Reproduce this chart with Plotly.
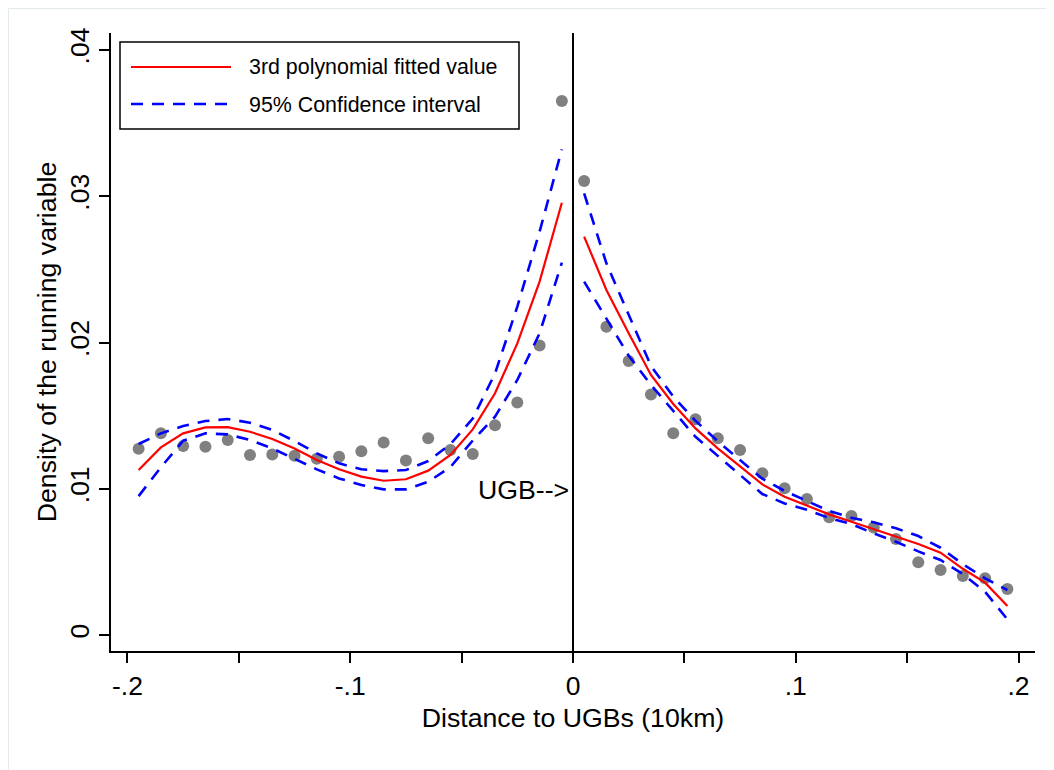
import plotly.graph_objects as go

# ---------------- data ----------------
x_left = [-0.195, -0.185, -0.175, -0.165, -0.155, -0.145, -0.135, -0.125, -0.115, -0.105,
          -0.095, -0.085, -0.075, -0.065, -0.055, -0.045, -0.035, -0.025, -0.015, -0.005]
x_right = [0.005, 0.015, 0.025, 0.035, 0.045, 0.055, 0.065, 0.075, 0.085, 0.095,
           0.105, 0.115, 0.125, 0.135, 0.145, 0.155, 0.165, 0.175, 0.185, 0.195]

density_left = [0.01274, 0.01379, 0.01292, 0.01288, 0.01333, 0.01231, 0.01235, 0.01226, 0.01206, 0.01219,
                0.01256, 0.01317, 0.01194, 0.01345, 0.01265, 0.01238, 0.01434, 0.01590, 0.01980, 0.03651]
density_right = [0.03104, 0.02108, 0.01874, 0.01645, 0.01379, 0.01475, 0.01345, 0.01265, 0.01106, 0.01003,
                 0.00930, 0.00805, 0.00814, 0.00736, 0.00656, 0.00497, 0.00444, 0.00403, 0.00388, 0.00315]

fit_left = [0.01128, 0.01283, 0.01379, 0.01420, 0.01422, 0.01390, 0.01340, 0.01276, 0.01197, 0.01133,
            0.01083, 0.01055, 0.01065, 0.01124, 0.01231, 0.01406, 0.01653, 0.01994, 0.02416, 0.02956]
upper_left = [0.01306, 0.01379, 0.01429, 0.01463, 0.01477, 0.01452, 0.01402, 0.01326, 0.01242, 0.01174,
              0.01133, 0.01121, 0.01128, 0.01190, 0.01305, 0.01480, 0.01789, 0.02245, 0.02758, 0.03321]
lower_left = [0.00950, 0.01147, 0.01329, 0.01379, 0.01372, 0.01333, 0.01276, 0.01203, 0.01133, 0.01071,
              0.01026, 0.00996, 0.00996, 0.01048, 0.01149, 0.01330, 0.01493, 0.01744, 0.02063, 0.02546]

fit_right = [0.02724, 0.02359, 0.02063, 0.01778, 0.01580, 0.01413, 0.01276, 0.01151, 0.01030, 0.00946,
             0.00884, 0.00825, 0.00775, 0.00723, 0.00672, 0.00622, 0.00563, 0.00453, 0.00358, 0.00198]
upper_right = [0.03020, 0.02541, 0.02190, 0.01840, 0.01630, 0.01465, 0.01325, 0.01200, 0.01069, 0.00985,
               0.00914, 0.00848, 0.00802, 0.00771, 0.00730, 0.00677, 0.00597, 0.00485, 0.00388, 0.00308]
lower_right = [0.02416, 0.02165, 0.01910, 0.01710, 0.01530, 0.01355, 0.01225, 0.01095, 0.00964, 0.00900,
               0.00857, 0.00800, 0.00759, 0.00695, 0.00638, 0.00572, 0.00513, 0.00417, 0.00296, 0.00107]

x_tickvals = [-0.2, -0.15, -0.1, -0.05, 0, 0.05, 0.1, 0.15, 0.2]
x_ticktext = ["-.2", "", "-.1", "", "0", "", ".1", "", ".2"]
y_tickvals = [0, 0.01, 0.02, 0.03, 0.04]
y_ticktext = ["0", ".01", ".02", ".03", ".04"]

legend_labels = ["3rd polynomial fitted value", "95% Confidence interval"]

# ---------------- styles ----------------
FONT = "Liberation Sans, Arial, Helvetica, sans-serif"
DOT = "#808080"
RED = "#ff0000"
BLUE = "#0000ff"
DASH = "12px,9px"
TICK_SIZE = 26.5
TITLE_SIZE = 26.7
LEG_SIZE = 21.4

fig = go.Figure()

# scatter bins
for xs, ys in [(x_left, density_left), (x_right, density_right)]:
    fig.add_trace(go.Scatter(x=xs, y=ys, mode="markers",
                             marker=dict(color=DOT, size=12, line=dict(width=0)),
                             name="Density", showlegend=False, hoverinfo="x+y"))

# fitted lines
for xs, ys in [(x_left, fit_left), (x_right, fit_right)]:
    fig.add_trace(go.Scatter(x=xs, y=ys, mode="lines",
                             line=dict(color=RED, width=2.2),
                             name=legend_labels[0], showlegend=False))

# confidence intervals
for xs, ys in [(x_left, upper_left), (x_left, lower_left), (x_right, upper_right), (x_right, lower_right)]:
    fig.add_trace(go.Scatter(x=xs, y=ys, mode="lines",
                             line=dict(color=BLUE, width=2.6, dash=DASH),
                             name=legend_labels[1], showlegend=False))

# The page body has an 8px margin, so the figure starts at page pixel (8, 8).
OFF = 8
PAGE_W, PAGE_H = 1054, 770
W, H = PAGE_W - OFF, PAGE_H - OFF
# plot area in page pixels
PL, PR, PT, PB = 111, 1035, 33, 651
L, R, T, B = PL - OFF, W - (PR - OFF), PT - OFF, H - (PB - OFF)
PW, PH = PR - PL, PB - PT


def px(xp):
    return (xp - PL) / PW


def py(yp):
    return (PB - yp) / PH


shapes = [
    # vertical line at the cutoff
    dict(type="line", xref="x", yref="paper", x0=0, x1=0, y0=0, y1=1,
         line=dict(color="black", width=2)),
    # faint outer frame
    dict(type="rect", xref="paper", yref="paper", x0=px(8.5), x1=px(1080), y0=py(800), y1=py(8.5),
         line=dict(color="#e2eaee", width=1), layer="below"),
    # legend box
    dict(type="rect", xref="paper", yref="paper", x0=px(120), x1=px(519), y0=py(129), y1=py(42),
         line=dict(color="black", width=1.5), fillcolor="white", layer="above"),
    dict(type="line", xref="paper", yref="paper", x0=px(131), x1=px(231), y0=py(67), y1=py(67),
         line=dict(color=RED, width=2.2)),
    dict(type="line", xref="paper", yref="paper", x0=px(131), x1=px(231), y0=py(104), y1=py(104),
         line=dict(color=BLUE, width=2.6, dash=DASH)),
]

annotations = [
    dict(x=0, y=0.01, xref="x", yref="y", text="UGB-->", showarrow=False,
         xanchor="right", yanchor="middle", xshift=-2, yshift=-1,
         font=dict(family=FONT, size=TITLE_SIZE, color="black")),
    dict(x=px(247), y=py(67), xref="paper", yref="paper", text=legend_labels[0], showarrow=False,
         xanchor="left", yanchor="middle", font=dict(family=FONT, size=LEG_SIZE, color="black")),
    dict(x=px(247), y=py(105), xref="paper", yref="paper", text=legend_labels[1], showarrow=False,
         xanchor="left", yanchor="middle", font=dict(family=FONT, size=LEG_SIZE, color="black")),
]

fig.update_layout(
    width=W, height=H,
    margin=dict(l=L, r=R, t=T, b=B, pad=0),
    paper_bgcolor="white", plot_bgcolor="white",
    showlegend=False,
    font=dict(family=FONT, size=TICK_SIZE, color="black"),
    shapes=shapes, annotations=annotations,
    xaxis=dict(range=[-0.2074, 0.2074], showgrid=False, zeroline=False,
               showline=True, linecolor="black", linewidth=1.5,
               ticks="outside", ticklen=10, tickwidth=1.5, tickcolor="black",
               tickvals=x_tickvals, ticktext=x_ticktext,
               tickfont=dict(family=FONT, size=TICK_SIZE, color="black"),
               automargin=False,
               title=dict(text="Distance to UGBs (10km)", standoff=9,
                          font=dict(family=FONT, size=TITLE_SIZE, color="black"))),
    yaxis=dict(range=[-0.00109, 0.04116], showgrid=False, zeroline=False,
               showline=True, linecolor="black", linewidth=1.5,
               ticks="outside", ticklen=10, tickwidth=1.5, tickcolor="black",
               tickvals=y_tickvals, ticktext=y_ticktext, tickangle=-90,
               tickfont=dict(family=FONT, size=TICK_SIZE, color="black"),
               automargin=False,
               title=dict(text="Density of the running variable", standoff=0,
                          font=dict(family=FONT, size=TITLE_SIZE, color="black"))),
)

fig.write_html("out.html")
